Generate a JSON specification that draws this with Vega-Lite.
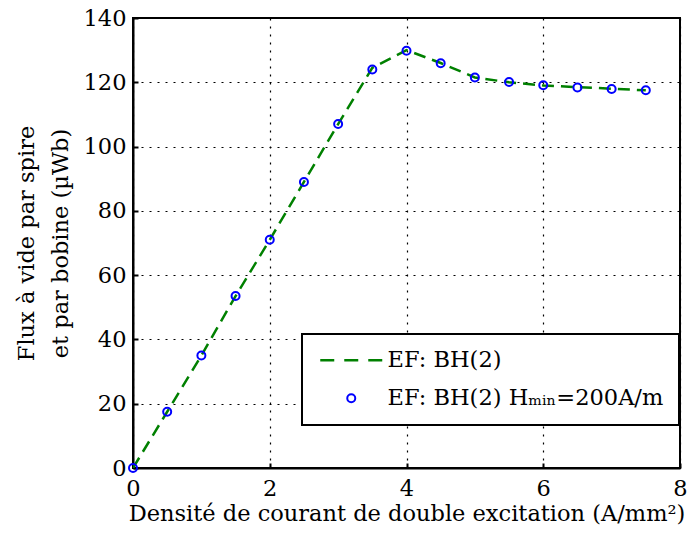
{
  "$schema": "https://vega.github.io/schema/vega-lite/v6.json",
  "width": 547,
  "height": 450,
  "autosize": {"type": "none"},
  "padding": {"left": 133, "top": 18, "right": 11, "bottom": 68},
  "background": "white",
  "config": {
    "view": {"stroke": "black", "strokeWidth": 2},
    "font": "DejaVu Serif",
    "axis": {
      "grid": true,
      "labelFlush": false,
      "labelFont": "DejaVu Serif",
      "titleFont": "DejaVu Serif",
      "labelFontSize": 22.5,
      "titleFontSize": 22.5,
      "titleFontWeight": "normal",
      "labelColor": "black",
      "titleColor": "black",
      "domainColor": "black",
      "domainWidth": 2,
      "tickColor": "black",
      "tickWidth": 2,
      "tickSize": -5,
      "gridColor": "black",
      "gridOpacity": 1,
      "gridDash": [2, 6],
      "gridWidth": 1.2
    },
    "legend": {
      "labelFont": "DejaVu Serif",
      "labelFontSize": 22.5,
      "labelColor": "black",
      "labelLimit": 500
    }
  },
  "datasets": {
    "flux": [
      {"J": 0, "phi": 0, "series": "EF: BH(2)"},
      {"J": 0.5, "phi": 17.5, "series": "EF: BH(2)"},
      {"J": 1, "phi": 35, "series": "EF: BH(2)"},
      {"J": 1.5, "phi": 53.5, "series": "EF: BH(2)"},
      {"J": 2, "phi": 71, "series": "EF: BH(2)"},
      {"J": 2.5, "phi": 89, "series": "EF: BH(2)"},
      {"J": 3, "phi": 107, "series": "EF: BH(2)"},
      {"J": 3.5, "phi": 124.5, "series": "EF: BH(2)"},
      {"J": 4, "phi": 130, "series": "EF: BH(2)"},
      {"J": 4.5, "phi": 126, "series": "EF: BH(2)"},
      {"J": 5, "phi": 121.5, "series": "EF: BH(2)"},
      {"J": 5.5, "phi": 120, "series": "EF: BH(2)"},
      {"J": 6, "phi": 119, "series": "EF: BH(2)"},
      {"J": 6.5, "phi": 118.5, "series": "EF: BH(2)"},
      {"J": 7, "phi": 118, "series": "EF: BH(2)"},
      {"J": 7.5, "phi": 117.5, "series": "EF: BH(2)"},
      {"J": 0, "phi": 0, "series": "EF: BH(2) Hₘᵢₙ=200A/m"},
      {"J": 0.5, "phi": 17.5, "series": "EF: BH(2) Hₘᵢₙ=200A/m"},
      {"J": 1, "phi": 35, "series": "EF: BH(2) Hₘᵢₙ=200A/m"},
      {"J": 1.5, "phi": 53.5, "series": "EF: BH(2) Hₘᵢₙ=200A/m"},
      {"J": 2, "phi": 71, "series": "EF: BH(2) Hₘᵢₙ=200A/m"},
      {"J": 2.5, "phi": 89, "series": "EF: BH(2) Hₘᵢₙ=200A/m"},
      {"J": 3, "phi": 107, "series": "EF: BH(2) Hₘᵢₙ=200A/m"},
      {"J": 3.5, "phi": 124, "series": "EF: BH(2) Hₘᵢₙ=200A/m"},
      {"J": 4, "phi": 129.8, "series": "EF: BH(2) Hₘᵢₙ=200A/m"},
      {"J": 4.5, "phi": 125.9, "series": "EF: BH(2) Hₘᵢₙ=200A/m"},
      {"J": 5, "phi": 121.5, "series": "EF: BH(2) Hₘᵢₙ=200A/m"},
      {"J": 5.5, "phi": 120.1, "series": "EF: BH(2) Hₘᵢₙ=200A/m"},
      {"J": 6, "phi": 119.1, "series": "EF: BH(2) Hₘᵢₙ=200A/m"},
      {"J": 6.5, "phi": 118.4, "series": "EF: BH(2) Hₘᵢₙ=200A/m"},
      {"J": 7, "phi": 117.9, "series": "EF: BH(2) Hₘᵢₙ=200A/m"},
      {"J": 7.5, "phi": 117.5, "series": "EF: BH(2) Hₘᵢₙ=200A/m"}
    ]
  },
  "data": {"name": "flux"},
  "encoding": {
    "x": {
      "field": "J",
      "type": "quantitative",
      "scale": {"domain": [0, 8], "nice": false},
      "axis": {
        "values": [0, 2, 4, 6, 8],
        "title": "Densité de courant de double excitation (A/mm²)",
        "labelPadding": 14,
        "titlePadding": 3
      }
    },
    "y": {
      "field": "phi",
      "type": "quantitative",
      "scale": {"domain": [0, 140], "nice": false},
      "axis": {
        "values": [0, 20, 40, 60, 80, 100, 120, 140],
        "title": ["Flux à vide par spire", "et par bobine (µWb)"],
        "labelPadding": 12,
        "titlePadding": 11,
        "titleLineHeight": 34
      }
    },
    "color": {
      "field": "series",
      "type": "nominal",
      "scale": {
        "domain": ["EF: BH(2)", "EF: BH(2) Hₘᵢₙ=200A/m"],
        "range": ["#008000", "#0000ff"]
      },
      "legend": {
        "title": null,
        "orient": "none",
        "legendX": 169,
        "legendY": 316,
        "padding": 15,
        "fillColor": "white",
        "strokeColor": "black",
        "symbolSize": 64,
        "symbolOffset": 23,
        "labelOffset": 25,
        "rowPadding": 15,
        "encode": {
          "legend": {"update": {"strokeWidth": {"value": 2}}},
          "symbols": {
            "update": {
              "shape": {"signal": "datum.value === 'EF: BH(2)' ? 'M-7.75,0H7.75' : 'circle'"},
              "strokeDash": {"signal": "datum.value === 'EF: BH(2)' ? [14, 10] : []"},
              "strokeWidth": {"signal": "datum.value === 'EF: BH(2)' ? 2.5 : 2"},
              "fill": {"value": "transparent"},
              "size": {"value": 64}
            }
          }
        }
      }
    }
  },
  "layer": [
    {
      "transform": [{"filter": "datum.series === 'EF: BH(2)'"}],
      "mark": {"type": "line", "strokeDash": [12, 7], "strokeWidth": 2.5, "clip": true}
    },
    {
      "transform": [{"filter": "datum.series !== 'EF: BH(2)'"}],
      "mark": {"type": "point", "filled": false, "size": 64, "strokeWidth": 2, "opacity": 1, "clip": false}
    }
  ]
}
